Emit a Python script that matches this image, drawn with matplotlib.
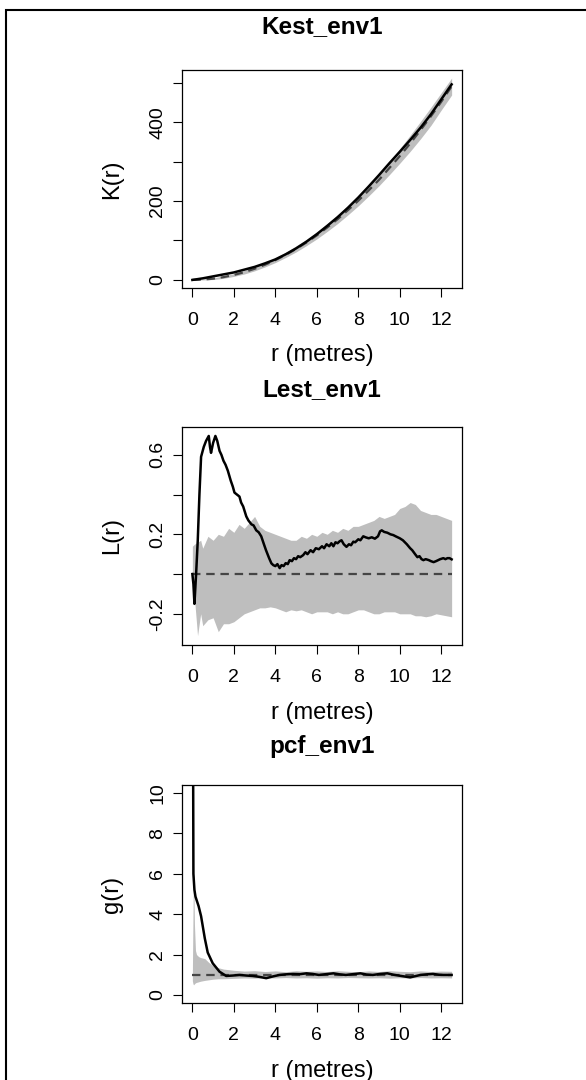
#%%
# envelope plots (K, L, pcf) recreated with matplotlib

# IMPORTS #######################################

import matplotlib
matplotlib.use("Agg")
import matplotlib.pyplot as plt
from matplotlib.patches import Rectangle

# SETUP #########################################

plt.rcParams.update({
    "font.family": ["Liberation Sans", "DejaVu Sans"],
    "font.size": 14,
})

W, H = 586, 1080  # figure size in pixels

# DATA ##########################################

# Kest_env1
r_K = [0, 0.5, 1, 1.5, 2, 2.5, 3, 3.5, 4, 4.5, 5, 5.5, 6, 6.5, 7, 7.5, 8,
       8.5, 9, 9.5, 10, 10.5, 11, 11.5, 12, 12.5]
K_obs = [0, 4, 9, 14, 19, 26, 33, 42, 52, 65, 80, 97, 116, 137, 159, 183,
         209, 237, 266, 296, 325, 355, 386, 420, 458, 496]
K_theo = [0, 0.8, 3.1, 7.1, 12.6, 19.6, 28.3, 38.5, 50.3, 63.6, 78.5, 95,
          113, 133, 154, 177, 201, 227, 254, 284, 314, 346, 380, 415, 452, 491]
K_hi = [0, 2, 5, 10, 16, 24, 33, 44, 56, 70, 86, 103, 122, 143, 165, 189,
        214, 241, 270, 301, 333, 367, 402, 438, 475, 512]
K_lo = [0, 0, 1, 4, 9, 15, 23, 33, 44, 57, 71, 87, 104, 123, 143, 165, 188,
        213, 239, 267, 296, 326, 358, 392, 431, 469]

# Lest_env1 : observed curve as (r, L) readings
L_points = [
    (0, 0.0), (0.05, -0.05), (0.1, -0.15), (0.18, 0.0), (0.26, 0.17),
    (0.34, 0.40), (0.42, 0.59), (0.55, 0.64), (0.66, 0.67), (0.79, 0.695),
    (0.85, 0.64), (0.9, 0.61), (1.0, 0.66), (1.11, 0.695), (1.2, 0.67),
    (1.31, 0.62), (1.4, 0.60), (1.5, 0.57), (1.6, 0.55), (1.71, 0.52),
    (1.85, 0.47), (1.95, 0.44), (2.03, 0.41), (2.15, 0.40), (2.27, 0.39),
    (2.35, 0.36), (2.45, 0.34), (2.6, 0.29), (2.7, 0.27), (2.85, 0.25),
    (2.95, 0.245), (3.08, 0.22), (3.2, 0.21), (3.32, 0.19), (3.45, 0.15),
    (3.55, 0.12), (3.7, 0.08), (3.81, 0.054), (3.9, 0.045), (4.0, 0.04),
    (4.1, 0.05), (4.21, 0.03), (4.3, 0.045), (4.4, 0.04), (4.5, 0.055),
    (4.6, 0.05), (4.69, 0.07), (4.8, 0.065), (4.9, 0.08), (5.0, 0.075),
    (5.1, 0.09), (5.2, 0.085), (5.34, 0.095), (5.45, 0.11), (5.55, 0.10),
    (5.7, 0.12), (5.82, 0.11), (5.95, 0.13), (6.1, 0.125), (6.25, 0.14),
    (6.35, 0.13), (6.47, 0.15), (6.6, 0.14), (6.7, 0.155), (6.8, 0.14),
    (6.9, 0.16), (7.0, 0.155), (7.1, 0.165), (7.19, 0.17), (7.3, 0.15),
    (7.43, 0.137), (7.55, 0.15), (7.65, 0.145), (7.76, 0.163), (7.85, 0.16),
    (8.0, 0.175), (8.1, 0.17), (8.24, 0.19), (8.35, 0.185), (8.5, 0.18),
    (8.65, 0.185), (8.8, 0.178), (8.95, 0.19), (9.05, 0.215), (9.13, 0.22),
    (9.25, 0.212), (9.4, 0.208), (9.55, 0.20), (9.69, 0.196), (9.8, 0.19),
    (9.9, 0.185), (10.0, 0.18), (10.15, 0.17), (10.34, 0.15), (10.5, 0.13),
    (10.6, 0.12), (10.74, 0.10), (10.85, 0.085), (10.95, 0.09),
    (11.05, 0.075), (11.14, 0.07), (11.25, 0.075), (11.4, 0.07),
    (11.5, 0.065), (11.63, 0.06), (11.75, 0.065), (11.85, 0.07),
    (11.95, 0.075), (12.1, 0.08), (12.2, 0.075), (12.3, 0.08), (12.4, 0.08),
    (12.5, 0.074),
]
r_L = [p[0] for p in L_points]
L_obs = [p[1] for p in L_points]
r_L_theo = [0, 12.5]
L_theo = [0, 0]
r_L_env = [0, 0.1, 0.25, 0.4, 0.5, 0.75, 1.0, 1.25, 1.5, 1.75, 2.0, 2.25,
           2.5, 2.75, 3.0, 3.25, 3.5, 3.75, 4.0, 4.25, 4.5, 4.75, 5.0, 5.25,
           5.5, 5.75, 6.0, 6.25, 6.5, 6.75, 7.0, 7.25, 7.5, 7.75, 8.0, 8.25,
           8.5, 8.75, 9.0, 9.25, 9.5, 9.75, 10.0, 10.25, 10.5, 10.75, 11.0,
           11.25, 11.5, 11.75, 12.0, 12.25, 12.5]
L_hi = [0.14, 0.15, 0.16, 0.17, 0.13, 0.19, 0.17, 0.20, 0.19, 0.23, 0.21,
        0.25, 0.23, 0.26, 0.29, 0.24, 0.22, 0.21, 0.20, 0.19, 0.18, 0.17,
        0.17, 0.19, 0.18, 0.20, 0.19, 0.21, 0.20, 0.22, 0.21, 0.23, 0.22,
        0.24, 0.24, 0.25, 0.26, 0.27, 0.29, 0.28, 0.29, 0.30, 0.33, 0.34,
        0.36, 0.35, 0.32, 0.31, 0.30, 0.30, 0.29, 0.28, 0.27]
L_lo = [-0.03, -0.12, -0.31, -0.20, -0.26, -0.23, -0.22, -0.29, -0.25,
        -0.25, -0.24, -0.22, -0.20, -0.19, -0.18, -0.17, -0.17, -0.165,
        -0.17, -0.18, -0.19, -0.18, -0.185, -0.18, -0.19, -0.20, -0.19,
        -0.19, -0.19, -0.20, -0.19, -0.20, -0.20, -0.19, -0.18, -0.18,
        -0.19, -0.20, -0.20, -0.19, -0.19, -0.19, -0.20, -0.20, -0.20,
        -0.21, -0.21, -0.215, -0.21, -0.20, -0.205, -0.21, -0.215]

# pcf_env1
r_g = [0.03, 0.05, 0.1, 0.15, 0.3, 0.42, 0.6, 0.74, 0.98, 1.31, 1.63, 1.95,
       2.27, 2.6, 2.9, 3.2, 3.56, 3.9, 4.2, 4.5, 4.85, 5.2, 5.5, 5.8, 6.1,
       6.45, 6.8, 7.1, 7.4, 7.75, 8.1, 8.4, 8.7, 9.05, 9.4, 9.7, 10.0, 10.5,
       11.0, 11.3, 11.6, 11.9, 12.1, 12.5]
g_obs = [14, 6.0, 5.2, 4.87, 4.4, 3.9, 2.8, 2.1, 1.57, 1.15, 0.94, 0.96,
         0.99, 0.96, 0.94, 0.9, 0.83, 0.92, 0.99, 1.02, 1.04, 1.03, 1.07,
         1.04, 0.99, 1.03, 1.07, 1.02, 0.99, 1.03, 1.07, 1.01, 0.99, 1.04,
         1.07, 1.0, 0.95, 0.87, 0.99, 1.02, 1.04, 1.0, 0.99, 0.99]
r_g_theo = [0, 12.5]
g_theo = [1, 1]
r_g_env = [0, 0.03, 0.06, 0.1, 0.15, 0.2, 0.3, 0.4, 0.6, 0.8, 1.0, 1.25,
           1.5, 2.0, 2.5, 3.0, 3.5, 4.0, 4.5, 5.0, 5.5, 6.0, 6.5, 7.0, 7.5,
           8.0, 8.5, 9.0, 9.5, 10.0, 10.5, 11.0, 11.5, 12.0, 12.5]
g_hi = [1.0, 4.0, 6.4, 3.5, 2.2, 2.0, 1.9, 1.85, 1.8, 1.6, 1.45, 1.35, 1.28,
        1.22, 1.18, 1.2, 1.16, 1.19, 1.15, 1.2, 1.17, 1.19, 1.16, 1.2, 1.17,
        1.15, 1.19, 1.16, 1.2, 1.17, 1.15, 1.19, 1.16, 1.18, 1.17]
g_lo = [0.7, 0.55, 0.5, 0.55, 0.6, 0.62, 0.65, 0.68, 0.72, 0.75, 0.78, 0.8,
        0.8, 0.82, 0.84, 0.83, 0.85, 0.84, 0.86, 0.84, 0.85, 0.83, 0.85,
        0.84, 0.86, 0.85, 0.84, 0.85, 0.83, 0.85, 0.84, 0.86, 0.84, 0.85,
        0.84]

# labels / ticks
x_ticks = [0, 2, 4, 6, 8, 10, 12]
K_yticks = [0, 100, 200, 300, 400, 500]
K_ylabels = ["0", "", "200", "", "400", ""]
L_yticks = [-0.2, 0.0, 0.2, 0.4, 0.6]
L_ylabels = ["-0.2", "", "0.2", "", "0.6"]
g_yticks = [0, 2, 4, 6, 8, 10]
g_ylabels = ["0", "2", "4", "6", "8", "10"]

# FIGURE ########################################

fig = plt.figure(figsize=(W / 100, H / 100), dpi=100)

# outer frame (cut off at right and bottom)
fig.add_artist(Rectangle((6 / W, -0.05), 1.0, 1 - 10 / H + 0.05,
                         transform=fig.transFigure, fill=False,
                         ec="black", lw=1.5))

ENV = "#BEBEBE"
LEFT, RIGHT = 182, 462


def make_panel(top, bottom, title, title_y, ylabel,
               r_env, hi, lo, r_theo, theo, r_obs, obs,
               ylim, yticks, ylabels):
    ax = fig.add_axes([LEFT / W, 1 - bottom / H,
                       (RIGHT - LEFT) / W, (bottom - top) / H])
    ax.fill_between(r_env, lo, hi, color=ENV, lw=0, zorder=1)
    ax.plot(r_theo, theo, color="#454545", lw=1.6, dashes=(3.8, 2.6), zorder=2)
    ax.plot(r_obs, obs, color="black", lw=1.8, zorder=3)

    ax.set_xlim(-0.5, 13.0)
    ax.set_ylim(*ylim)
    ax.set_xticks(x_ticks, [str(t) for t in x_ticks])
    ax.set_yticks(yticks, ylabels, rotation=90, va="center")
    ax.tick_params(axis="both", direction="out", length=6.5, width=0.8,
                   labelsize=14)
    ax.tick_params(axis="x", pad=10.5)
    ax.tick_params(axis="y", pad=5)
    for s in ax.spines.values():
        s.set_linewidth(0.9)

    cx = (LEFT + RIGHT) / 2
    fig.text(cx / W, 1 - title_y / H, title, ha="center", va="center",
             fontsize=17.5, fontweight="bold")
    fig.text(cx / W, 1 - (bottom + 67.5) / H, "r (metres)",
             ha="center", va="center", fontsize=17)
    fig.text(112 / W, 1 - (top + bottom) / 2 / H, ylabel, rotation=90,
             ha="center", va="center", fontsize=17)
    return ax


make_panel(70, 288, "Kest_env1", 27, "K(r)",
           r_K, K_hi, K_lo, r_K, K_theo, r_K, K_obs,
           (-20.5, 532.5), K_yticks, K_ylabels)
make_panel(427, 645, "Lest_env1", 390, "L(r)",
           r_L_env, L_hi, L_lo, r_L_theo, L_theo, r_L, L_obs,
           (-0.357, 0.74), L_yticks, L_ylabels)
make_panel(785, 1003, "pcf_env1", 746, "g(r)",
           r_g_env, g_hi, g_lo, r_g_theo, g_theo, r_g, g_obs,
           (-0.4, 10.4), g_yticks, g_ylabels)

# EXPORT ########################################

fig.savefig("out.png", dpi=100)
